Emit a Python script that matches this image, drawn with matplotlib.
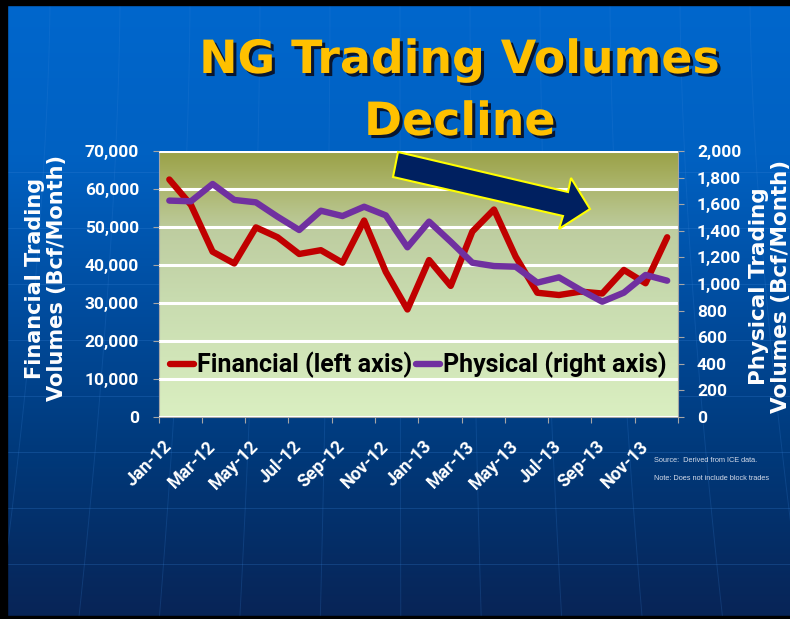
import numpy as np
import matplotlib
matplotlib.use('Agg')
import matplotlib.pyplot as plt
import matplotlib.patheffects as pe
from matplotlib.colors import LinearSegmentedColormap
from matplotlib.patches import Polygon, Rectangle
from matplotlib.lines import Line2D
from matplotlib.ticker import FuncFormatter

# monthly values
months = ['Jan-12', 'Feb-12', 'Mar-12', 'Apr-12', 'May-12', 'Jun-12',
          'Jul-12', 'Aug-12', 'Sep-12', 'Oct-12', 'Nov-12', 'Dec-12',
          'Jan-13', 'Feb-13', 'Mar-13', 'Apr-13', 'May-13', 'Jun-13',
          'Jul-13', 'Aug-13', 'Sep-13', 'Oct-13', 'Nov-13', 'Dec-13']
financial = [62500, 55800, 43500, 40400, 49900, 47300, 42900, 43900,
             40600, 51700, 38200, 28300, 41300, 34500, 48800, 54600,
             42200, 32700, 32100, 33000, 32500, 38700, 35200, 47300]
physical = [1627, 1622, 1752, 1632, 1614, 1506, 1406, 1551, 1511, 1581,
            1516, 1276, 1469, 1318, 1160, 1135, 1130, 1010, 1050, 955,
            867, 935, 1068, 1025]

title_lines = ['NG Trading Volumes', 'Decline']
left_label = 'Financial Trading\nVolumes (Bcf/Month)'
right_label = 'Physical Trading\nVolumes (Bcf/Month)'
legend_labels = ['Financial (left axis)', 'Physical (right axis)']
notes = ['Source:  Derived from ICE data.', 'Note: Does not include block trades']

plt.rcParams['font.family'] = ['Roboto', 'DejaVu Sans']
plt.rcParams['font.weight'] = 'bold'

W, H = 790, 619
fig = plt.figure(figsize=(7.9, 6.19), dpi=100)

# slide background
bg = fig.add_axes([0, 0, 1, 1], zorder=-10)
grad = np.linspace(0, 1, 256).reshape(-1, 1)
bg_cmap = LinearSegmentedColormap.from_list(
    'bg', [(0, '#0067CD'), (0.25, '#0061C2'), (0.5, '#004C9E'),
           (0.72, '#003A7C'), (1, '#082456')])
bg.imshow(grad, cmap=bg_cmap, extent=[0, W, H, 0], aspect='auto')
for yy in [172, 228, 284, 340, 396, 452, 508, 564]:
    bg.plot([0, W], [yy, yy], color='#3A85DA', lw=0.7, alpha=0.25)
t = np.linspace(0, 1, 60)
for x0 in np.linspace(-20, 820, 13):
    bg.plot(x0 + (x0 - 395) * 0.15 * t ** 1.6, t * H, color='#3A85DA', lw=0.7, alpha=0.2)
bg.add_patch(Rectangle((0, 0), 7, H, color='black', zorder=10))
bg.add_patch(Rectangle((0, 0), W, 5, color='black', zorder=10))
bg.add_patch(Rectangle((0, H - 3), W, 3, color='black', zorder=10))
bg.set_xlim(0, W)
bg.set_ylim(H, 0)
bg.axis('off')

# title with shadow
shadow = [pe.withSimplePatchShadow(offset=(2.2, -2.2), shadow_rgbFace='#0A1228', alpha=0.95)]
fig.text(460 / W, 1 - 73 / H, title_lines[0], ha='center', va='baseline', fontsize=33,
         family='DejaVu Sans', weight='bold', color='#FFC000', path_effects=shadow)
fig.text(460 / W, 1 - 135 / H, title_lines[1], ha='center', va='baseline', fontsize=33,
         family='DejaVu Sans', weight='bold', color='#FFC000', path_effects=shadow)

# plot area
ax = fig.add_axes([158.5 / W, (H - 417) / H, 519.5 / W, 266 / H])
ax.patch.set_visible(False)
plot_cmap = LinearSegmentedColormap.from_list(
    'plot', [(0, '#9AA146'), (0.15, '#AEB872'), (0.3, '#BECDA0'),
             (0.55, '#C8DBAF'), (1, '#DAEFC1')])
ax.imshow(grad, cmap=plot_cmap, extent=[0, 1, 0, 1], transform=ax.transAxes,
          aspect='auto', zorder=0)

x = np.arange(len(months))
ax.plot(x, financial, color='#C00000', lw=4.6, solid_capstyle='round',
        solid_joinstyle='round', zorder=3)
ax.set_xlim(-0.5, len(months) - 0.5)
ax.set_ylim(0, 70000)
ax.set_yticks(range(0, 70001, 10000))
ax.yaxis.set_major_formatter(FuncFormatter(lambda v, p: f'{int(v):,}'))
ax.yaxis.grid(True, color='white', lw=2.2)
ax.set_axisbelow(False)

ax.set_xticks(np.arange(-0.5, len(months), 2))
ax.set_xticklabels([])
ax.set_xticks(x[::2], minor=True)
ax.set_xticklabels(months[::2], minor=True, rotation=45, ha='right',
                   va='center', rotation_mode='anchor')
ax.tick_params(axis='x', which='major', direction='out', length=4.3, color='#A6A6A6')
ax.tick_params(axis='x', which='minor', length=0, pad=19, labelcolor='white', labelsize=12.8)
ax.tick_params(axis='y', direction='out', length=4.3, color='#A6A6A6',
               labelcolor='white', labelsize=12.5, pad=9.7)

ax2 = ax.twinx()
ax2.plot(x, physical, color='#7030A0', lw=4.6, solid_capstyle='round',
         solid_joinstyle='round', zorder=3)
ax2.set_ylim(0, 2000)
ax2.set_yticks(range(0, 2001, 200))
ax2.yaxis.set_major_formatter(FuncFormatter(lambda v, p: f'{int(v):,}'))
ax2.tick_params(axis='y', direction='out', length=4.3, color='#A6A6A6',
                labelcolor='white', labelsize=12.5, pad=9.4)

for name, sp in ax.spines.items():
    sp.set_color('#A6A6A6')
    sp.set_visible(name in ('left', 'bottom'))
for name, sp in ax2.spines.items():
    sp.set_color('#A6A6A6')
    sp.set_visible(name == 'right')

handles = [Line2D([], [], color='#C00000', lw=4.6, solid_capstyle='round'),
           Line2D([], [], color='#7030A0', lw=4.6, solid_capstyle='round')]
ax2.legend(handles, legend_labels, loc='center', bbox_to_anchor=(0.5, 0.195),
           ncol=2, frameon=False, handlelength=0.95, handletextpad=0.12,
           columnspacing=0.15, prop={'family': 'Roboto', 'weight': 'bold', 'size': 18})

# arrow
arrow_pts = [(398, 152), (568, 192), (571, 178), (590, 209), (559, 229), (563, 216), (393, 177)]
ax2.add_patch(Polygon(arrow_pts, closed=True, facecolor='#002060', edgecolor='#FFFF00',
                      lw=1.5, transform=bg.transData, clip_on=False, zorder=6))

# axis titles
fig.text(46 / W, 1 - 278 / H, left_label, rotation=90, ha='center', va='center',
         multialignment='center', fontsize=15, family='DejaVu Sans', weight='bold',
         color='white', linespacing=1.08)
fig.text(770 / W, 1 - 286 / H, right_label, rotation=90, ha='center', va='center',
         multialignment='center', fontsize=15.5, family='DejaVu Sans', weight='bold',
         color='white', linespacing=1.08)

# footnotes
for txt, yy in zip(notes, [460, 478]):
    fig.text(654 / W, 1 - yy / H, txt, ha='left', va='center', fontsize=5.3,
             family='Liberation Sans', weight='normal', color='#D5DCEA')

fig.savefig('out.png', dpi=100)
